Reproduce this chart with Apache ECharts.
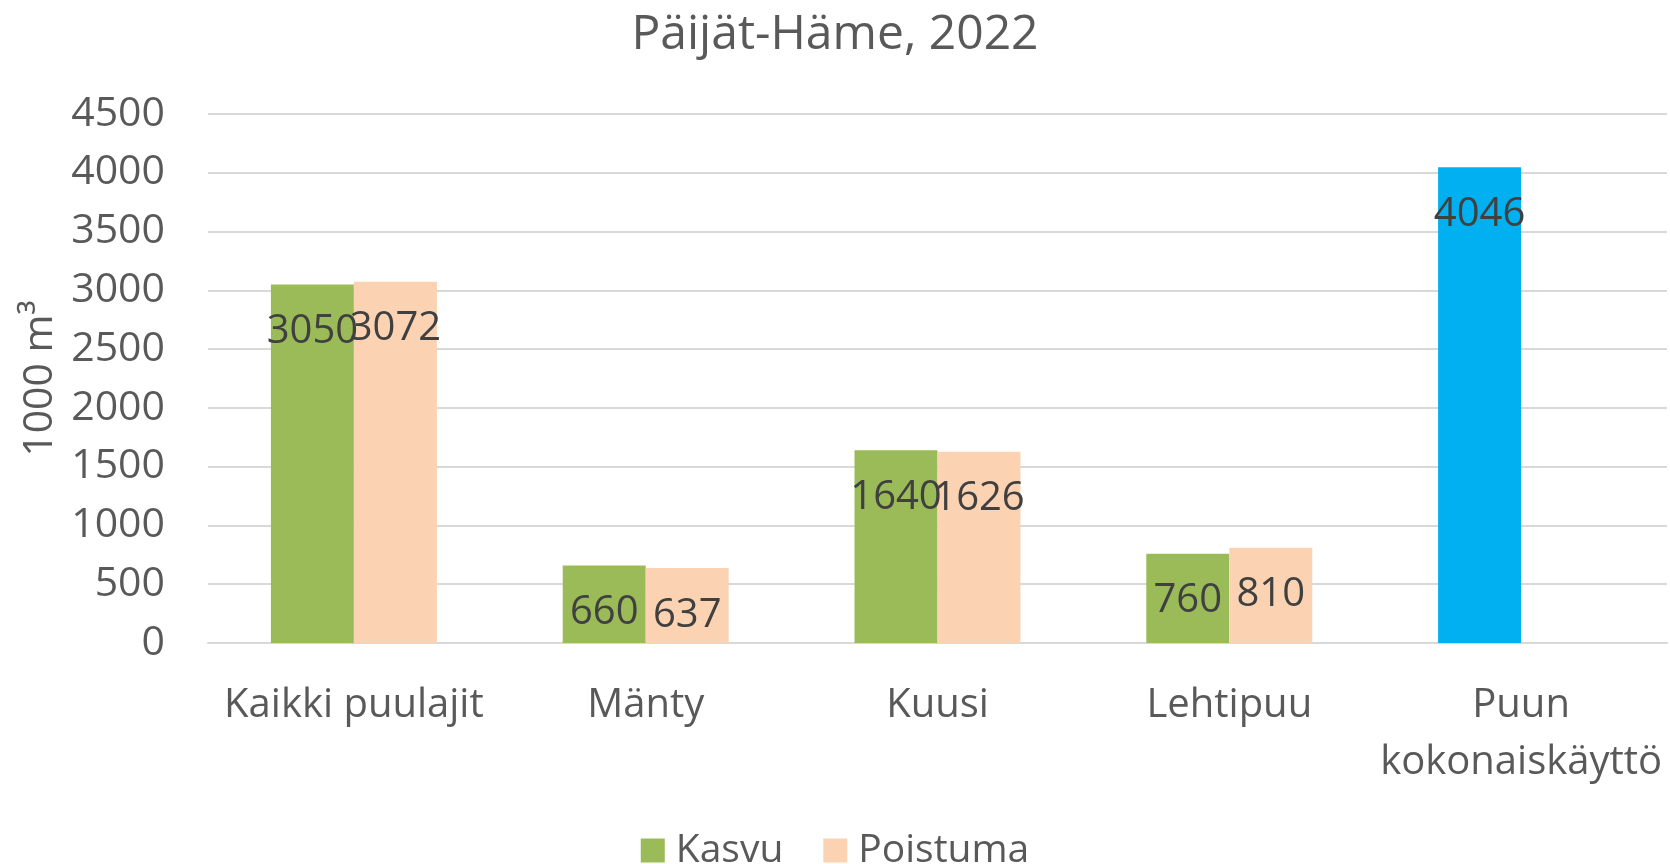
<!DOCTYPE html>
<html>
<head>
<meta charset="utf-8">
<script src="https://cdn.jsdelivr.net/npm/echarts@6/dist/echarts.min.js"></script>
<style>
  html, body { margin: 0; padding: 0; background: #fff; }
  #chart { width: 1670px; height: 864px; }
</style>
</head>
<body>
<div id="chart"></div>
<script>
const categories = ['Kaikki puulajit', 'Mänty', 'Kuusi', 'Lehtipuu', 'Puun\nkokonaiskäyttö'];
const kasvu = [3050, 660, 1640, 760, 4046];
const poistuma = [3072, 637, 1626, 810, null];
const yTicks = [0, 4500, 500]; // min, max, interval

const FONT = '"Open Sans", "Noto Sans", sans-serif';
const TEXT = '#595959';

const chart = echarts.init(document.getElementById('chart'));

const dataLabel = {
    show: true,
    position: 'insideTop',
    distance: 27,
    color: '#404040',
    fontFamily: FONT,
    fontSize: 40
};

chart.setOption({
    backgroundColor: '#ffffff',
    animation: false,
    title: {
        text: 'Päijät-Häme, 2022',
        left: 'center',
        top: 6,
        textStyle: { fontFamily: FONT, fontSize: 48, fontWeight: 'normal', color: TEXT }
    },
    grid: { left: 208, right: 3, top: 114, bottom: 221 },
    legend: {
        data: ['Kasvu', 'Poistuma'],
        left: 'center',
        top: 826,
        icon: 'rect',
        itemWidth: 24,
        itemHeight: 24,
        itemGap: 40,
        textStyle: { fontFamily: FONT, fontSize: 39, color: TEXT, padding: [0, 0, 0, 6] }
    },
    xAxis: {
        type: 'category',
        data: categories,
        axisLine: { show: true, lineStyle: { color: '#d9d9d9', width: 2 } },
        axisTick: { show: false },
        axisLabel: {
            fontFamily: FONT, fontSize: 40, color: TEXT,
            margin: 34, lineHeight: 57, interval: 0
        }
    },
    yAxis: {
        type: 'value',
        min: yTicks[0],
        max: yTicks[1],
        interval: yTicks[2],
        name: '1000 m³',
        nameLocation: 'middle',
        nameGap: 140,
        nameRotate: 90,
        nameTextStyle: { fontFamily: FONT, fontSize: 41, color: TEXT },
        axisLine: { show: false },
        axisTick: { show: false },
        splitLine: { lineStyle: { color: '#d9d9d9', width: 2 } },
        axisLabel: {
            fontFamily: FONT, fontSize: 41, color: TEXT, margin: 43,
            formatter: v => String(v)
        }
    },
    series: [
        {
            name: 'Kasvu',
            type: 'bar',
            barWidth: 83,
            barGap: '0%',
            itemStyle: { color: '#9bbb59' },
            data: kasvu.map((v, i) => i === 4 ? { value: v, itemStyle: { color: '#00b0f0' } } : v),
            label: dataLabel
        },
        {
            name: 'Poistuma',
            type: 'bar',
            barWidth: 83,
            barGap: '0%',
            itemStyle: { color: '#fbd3b3' },
            data: poistuma,
            label: dataLabel
        }
    ]
});
</script>
</body>
</html>
